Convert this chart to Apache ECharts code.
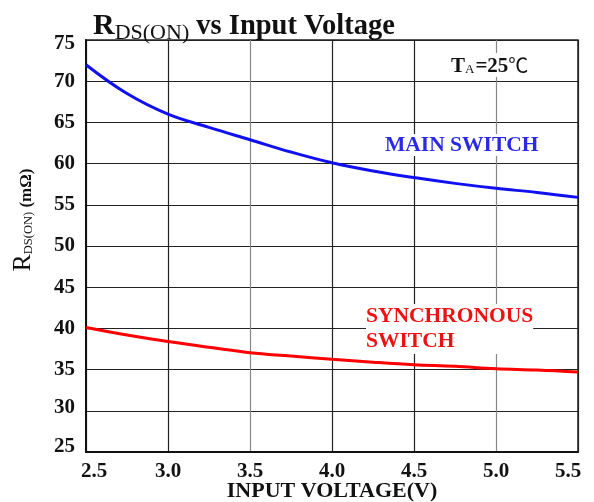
<!DOCTYPE html>
<html>
<head>
<meta charset="utf-8">
<script src="https://cdn.jsdelivr.net/npm/echarts@6/dist/echarts.min.js"></script>
<style>
  html, body { margin: 0; padding: 0; background: #fff; }
  #chart { width: 594px; height: 502px; }
</style>
</head>
<body>
<div id="chart"></div>
<script>
// Input voltage (V) sample points
const voltage = [2.5, 2.75, 3.0, 3.25, 3.5, 3.75, 4.0, 4.25, 4.5, 4.75, 5.0, 5.25, 5.5];
// On-resistance (mΩ) at TA = 25 °C
const mainSwitch = [72.0, 68.5, 66.0, 64.4, 62.9, 61.4, 60.1, 59.1, 58.3, 57.6, 57.0, 56.5, 55.9];
const syncSwitch = [40.1, 39.2, 38.4, 37.7, 37.05, 36.65, 36.25, 35.9, 35.6, 35.4, 35.1, 34.95, 34.7];
// Axis ticks
const xTicks = { min: 2.5, max: 5.5, step: 0.5 };
const yTicks = { min: 25, max: 75, step: 5 };

const serif = '"Liberation Serif", "DejaVu Serif", serif';
const chart = echarts.init(document.getElementById('chart'), null, { renderer: 'canvas' });

const pairs = (ys) => voltage.map((v, i) => [v, ys[i]]);
const tickFont = { fontFamily: serif, fontSize: 21, fontWeight: 'bold', color: '#111' };

chart.setOption({
  backgroundColor: '#ffffff',
  animation: false,
  textStyle: { fontFamily: serif, color: '#111' },
  title: {
    text: '{r|R}{s|DS(ON)}{m| vs Input Voltage}',
    left: 88,
    top: 2,
    textStyle: {
      rich: {
        r: { fontFamily: serif, fontSize: 30, fontWeight: 'bold', color: '#111', lineHeight: 34, verticalAlign: 'bottom' },
        m: { fontFamily: serif, fontSize: 28.5, fontWeight: 'bold', color: '#111', lineHeight: 34, verticalAlign: 'bottom' },
        s: { fontFamily: serif, fontSize: 22, fontWeight: 'normal', color: '#111', lineHeight: 34, verticalAlign: 'bottom', padding: [0, 0, -3, 0] }
      }
    }
  },
  grid: {
    left: 86, right: 16, top: 40, bottom: 50,
    outerBoundsMode: 'none',
    containLabel: false,
    show: true, borderColor: '#222', borderWidth: 1.5, backgroundColor: 'transparent'
  },
  xAxis: {
    type: 'value',
    min: xTicks.min, max: xTicks.max, interval: xTicks.step,
    name: 'INPUT VOLTAGE(V)',
    nameLocation: 'middle',
    nameGap: 28,
    nameMoveOverlap: false,
    nameTextStyle: { fontFamily: serif, fontSize: 22, fontWeight: 'bold', color: '#111' },
    axisLine: { lineStyle: { color: '#111', width: 2 } },
    axisTick: { show: false },
    axisLabel: Object.assign({
      margin: 9,
      // end labels sit slightly inside the frame
      formatter: (v) => {
        const s = v.toFixed(1);
        if (v === xTicks.min) return '{first|' + s + '}';
        if (v === xTicks.max) return '{last|' + s + '}';
        return s;
      },
      rich: {
        first: Object.assign({ padding: [0, 0, 0, 16] }, tickFont),
        last: Object.assign({ padding: [0, 20, 0, 0] }, tickFont)
      }
    }, tickFont),
    splitLine: { show: true, lineStyle: { color: ['#222', '#222', '#888', '#222', '#222', '#888', '#222'], width: 1.2 } }
  },
  yAxis: {
    type: 'value',
    min: yTicks.min, max: yTicks.max, interval: yTicks.step,
    axisLine: { show: true, lineStyle: { color: '#111', width: 2 } },
    axisTick: { show: false },
    axisLabel: Object.assign({
      margin: 11,
      formatter: (v) => {
        if (v === yTicks.max) return '{top|' + v + '}';
        if (v === yTicks.min) return '{bot|' + v + '}';
        if (v === yTicks.min + yTicks.step) return '{low|' + v + '}';
        return '{n|' + v + '}';
      },
      rich: {
        n: Object.assign({}, tickFont),
        top: Object.assign({ padding: [8, 0, 0, 0] }, tickFont),
        bot: Object.assign({ padding: [0, 0, 10, 0] }, tickFont),
        low: Object.assign({ padding: [0, 0, 6, 0] }, tickFont)
      }
    }, tickFont),
    splitLine: { show: true, lineStyle: { color: '#222', width: 1.2 } }
  },
  series: [
    {
      name: 'MAIN SWITCH',
      type: 'line',
      data: pairs(mainSwitch),
      smooth: 0.4,
      showSymbol: false,
      lineStyle: { color: '#1010f0', width: 3 },
      z: 3
    },
    {
      name: 'SYNCHRONOUS SWITCH',
      type: 'line',
      data: pairs(syncSwitch),
      smooth: 0.4,
      showSymbol: false,
      lineStyle: { color: '#ff0000', width: 3 },
      z: 3
    }
  ],
  graphic: [
    {
      // vertical axis title, reading bottom to top
      type: 'text', x: 36, y: 220, rotation: Math.PI / 2, z: 10,
      style: {
        text: '{r|R}{s|DS(ON)}{b| (mΩ)}',
        align: 'center',
        verticalAlign: 'bottom',
        rich: {
          r: { font: 'normal 26px ' + serif, fill: '#111', verticalAlign: 'bottom' },
          s: { font: 'normal 12.5px ' + serif, fill: '#111', verticalAlign: 'bottom', padding: [0, 0, 1, 0] },
          b: { font: 'bold 17px ' + serif, fill: '#111', verticalAlign: 'bottom', padding: [0, 0, 1, 0] }
        }
      }
    },
    {
      type: 'text', left: 385, top: 134, z: 10,
      style: { text: 'MAIN SWITCH', font: 'bold 21.5px ' + serif, fill: '#2a2ae6', backgroundColor: '#fff' }
    },
    {
      type: 'text', left: 366, top: 304, z: 10,
      style: { text: 'SYNCHRONOUS\nSWITCH', font: 'bold 21.5px ' + serif, fill: '#ee1111', lineHeight: 25, backgroundColor: '#fff' }
    },
    {
      type: 'text', left: 451, top: 53, z: 10,
      style: {
        text: '{t|T}{a|A}{t|=25}{c|℃}',
        backgroundColor: '#fff',
        rich: {
          t: { font: 'bold 21px ' + serif, fill: '#111', lineHeight: 24, verticalAlign: 'bottom' },
          a: { font: 'normal 13px ' + serif, fill: '#111', lineHeight: 24, verticalAlign: 'bottom', padding: [0, 1, 1, 0] },
          c: { font: 'normal 20px "Noto Sans CJK SC", ' + serif, fill: '#111', lineHeight: 24, verticalAlign: 'bottom', padding: [0, 0, 2, 0] }
        }
      }
    }
  ]
});
</script>
</body>
</html>
